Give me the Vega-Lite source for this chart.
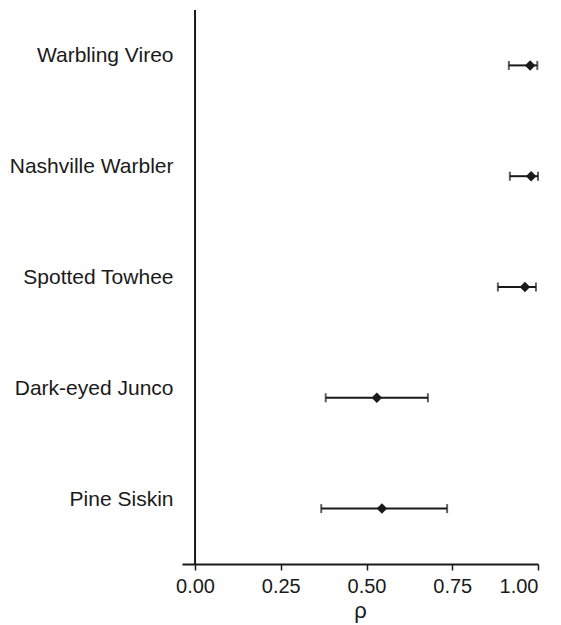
{
  "$schema": "https://vega.github.io/schema/vega-lite/v6.json",
  "width": 356,
  "height": 554,
  "autosize": "none",
  "padding": {"left": 182, "top": 10, "right": 23, "bottom": 61},
  "background": "white",
  "config": {
    "view": {"stroke": null},
    "font": "Liberation Sans",
    "axis": {"labelColor": "#1a1a1a", "titleColor": "#1a1a1a", "domainColor": "#1a1a1a", "tickColor": "#1a1a1a", "grid": false}
  },
  "data": {
    "values": [
      {"species": "Warbling Vireo", "lo": 0.915, "rho": 0.977, "hi": 0.998},
      {"species": "Nashville Warbler", "lo": 0.918, "rho": 0.980, "hi": 1.0},
      {"species": "Spotted Towhee ", "lo": 0.883, "rho": 0.962, "hi": 0.994},
      {"species": "Dark-eyed Junco", "lo": 0.381, "rho": 0.530, "hi": 0.679},
      {"species": "Pine Siskin", "lo": 0.368, "rho": 0.545, "hi": 0.735}
    ]
  },
  "encoding": {
    "y": {
      "field": "species", "type": "nominal", "sort": null, "title": null,
      "axis": {"domain": false, "ticks": false, "labelPadding": 9, "labelFontSize": 21, "labelOffset": -9, "labelLimit": 300}
    }
  },
  "layer": [
    {
      "mark": {"type": "rule", "color": "#1a1a1a", "strokeWidth": 2},
      "encoding": {
        "y": null,
        "x": {"datum": 0, "type": "quantitative", "scale": {"domain": [-0.038, 1]}}
      },
      "data": {"values": [{}]}
    },
    {
      "mark": {"type": "rule", "color": "#1a1a1a", "strokeWidth": 2},
      "encoding": {
        "x": {
          "field": "lo", "type": "quantitative",
          "scale": {"domain": [-0.038, 1], "nice": false, "zero": false},
          "axis": {"values": [0, 0.25, 0.5, 0.75, 1], "format": ".2f", "labelFontSize": 20, "tickSize": 6, "tickWidth": 1.5, "domainWidth": 2, "labelPadding": 6, "title": "ρ", "titleFontSize": 22, "titleFontWeight": "normal", "titlePadding": 4}
        },
        "x2": {"field": "hi"}
      }
    },
    {
      "mark": {"type": "tick", "orient": "vertical", "color": "#1a1a1a", "size": 9, "thickness": 2},
      "encoding": {"x": {"field": "lo", "type": "quantitative"}}
    },
    {
      "mark": {"type": "tick", "orient": "vertical", "color": "#1a1a1a", "size": 9, "thickness": 2},
      "encoding": {"x": {"field": "hi", "type": "quantitative"}}
    },
    {
      "mark": {"type": "point", "shape": "diamond", "filled": true, "color": "#1a1a1a", "size": 110, "opacity": 1},
      "encoding": {"x": {"field": "rho", "type": "quantitative"}}
    }
  ]
}
